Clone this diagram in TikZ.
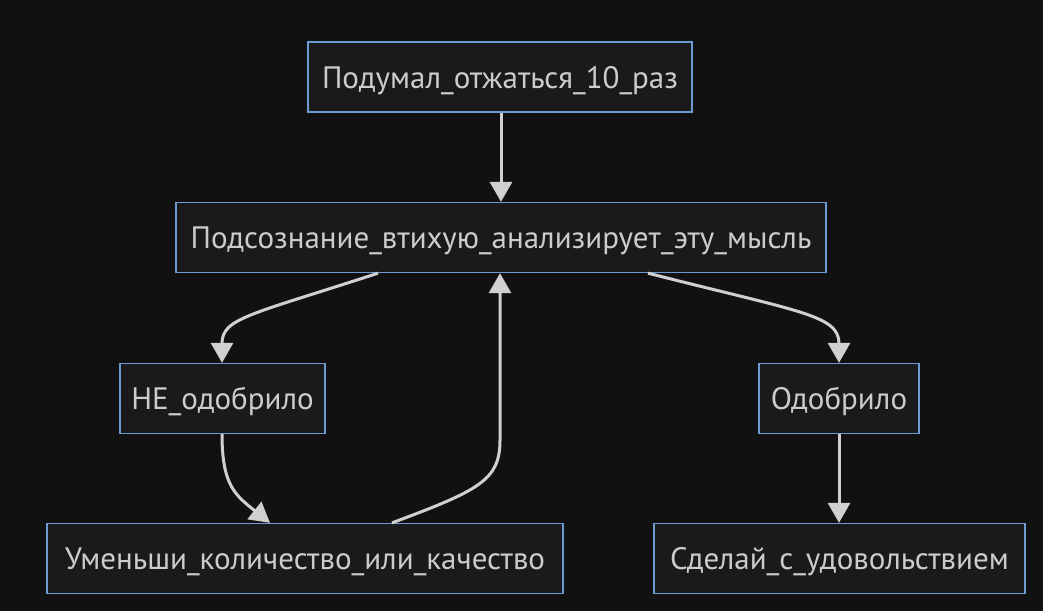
\documentclass[tikz,border=0pt]{standalone}
\usepackage{fontspec}
\setmainfont{PT Sans}
\usetikzlibrary{arrows.meta}
\definecolor{bgc}{HTML}{111111}
\definecolor{boxfill}{HTML}{1A1A1A}
\definecolor{boxline}{HTML}{6B9BD2}
\definecolor{txt}{HTML}{CCCCCC}
\definecolor{edge}{HTML}{D0D0D0}
\tikzset{
  box/.style={draw=boxline, fill=boxfill, line width=1.3pt, minimum height=70pt, inner sep=0pt,
    text height=29pt, text depth=7pt,
    text=txt, font=\fontsize{31}{36}\selectfont},
  conn/.style={draw=edge, line width=3pt, -{Triangle[width=22pt,length=20pt]}},
}
\begin{document}
\begin{tikzpicture}[x=1pt,y=-1pt]
\fill[bgc] (0,0) rectangle (1043,611);
\useasboundingbox (0,0) rectangle (1043,611);
\node[box, minimum width=384pt] (a) at (500,77) {Подумал\_отжаться\_10\_раз};
\node[box, minimum width=650pt] (b) at (501,237.5) {Подсознание\_втихую\_анализирует\_эту\_мысль};
\node[box, minimum width=205pt] (c) at (222.5,398.5) {НЕ\_одобрило};
\node[box, minimum width=160pt] (d) at (839,398.5) {Одобрило};
\node[box, minimum width=516pt] (e) at (305,558.5) {Уменьши\_количество\_или\_качество};
\node[box, minimum width=371pt] (f) at (839.5,558.5) {Сделай\_с\_удовольствием};
\draw[conn] ([xshift=1pt]a.south) -- ([xshift=0pt]b.north);
\draw[conn] ([xshift=-123pt]b.south) .. controls (250,315) and (222,318) .. ([xshift=-0.5pt]c.north);
\draw[conn] ([xshift=-0.5pt]c.south) .. controls (222,485) and (235,495) .. ([xshift=-35pt]e.north);
\draw[conn] ([xshift=87pt]e.north) .. controls (480,490) and (500,480) .. (500,440) -- ([xshift=-1pt]b.south);
\draw[conn] ([xshift=147pt]b.south) .. controls (800,312) and (839,315) .. (d.north);
\draw[conn] (d.south) -- ([xshift=-0.5pt]f.north);
\end{tikzpicture}
\end{document}
